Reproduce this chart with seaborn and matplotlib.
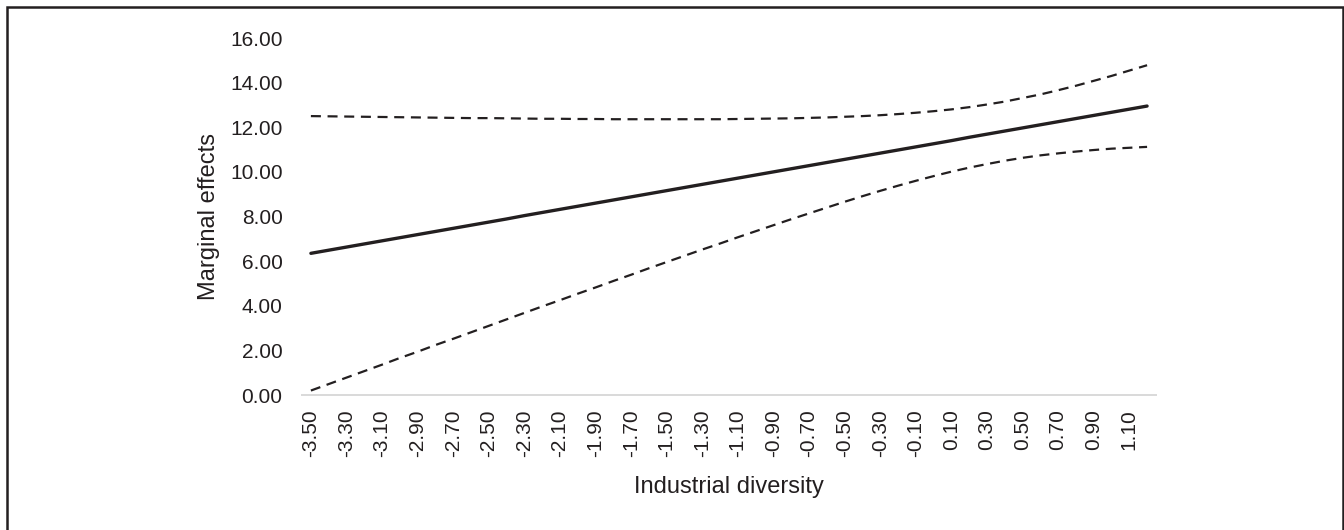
import matplotlib
matplotlib.use("Agg")
import matplotlib.pyplot as plt
import seaborn as sns
import pandas as pd
from matplotlib.patches import Rectangle

# Industrial diversity values (x) and the estimated marginal effects with confidence bounds
diversity = [-3.5, -3.4, -3.3, -3.2, -3.1, -3.0, -2.9, -2.8, -2.7, -2.6,
             -2.5, -2.4, -2.3, -2.2, -2.1, -2.0, -1.9, -1.8, -1.7, -1.6,
             -1.5, -1.4, -1.3, -1.2, -1.1, -1.0, -0.9, -0.8, -0.7, -0.6,
             -0.5, -0.4, -0.3, -0.2, -0.1, 0.0, 0.1, 0.2, 0.3, 0.4,
             0.5, 0.6, 0.7, 0.8, 0.9, 1.0, 1.1, 1.2]

marginal_effect = [6.35, 6.49, 6.63, 6.77, 6.91, 7.05, 7.19, 7.33, 7.47, 7.61,
                   7.75, 7.89, 8.04, 8.18, 8.32, 8.46, 8.60, 8.74, 8.88, 9.02,
                   9.16, 9.30, 9.44, 9.58, 9.72, 9.86, 10.00, 10.14, 10.28, 10.42,
                   10.56, 10.70, 10.84, 10.98, 11.12, 11.26, 11.40, 11.55, 11.69, 11.83,
                   11.97, 12.11, 12.25, 12.39, 12.53, 12.67, 12.81, 12.95]

upper_bound = [12.50, 12.49, 12.48, 12.47, 12.46, 12.45, 12.44, 12.43, 12.42, 12.41,
               12.41, 12.40, 12.39, 12.38, 12.38, 12.37, 12.37, 12.36, 12.36, 12.36,
               12.36, 12.36, 12.36, 12.36, 12.37, 12.38, 12.39, 12.40, 12.42, 12.44,
               12.47, 12.50, 12.54, 12.59, 12.65, 12.72, 12.80, 12.90, 13.02, 13.15,
               13.31, 13.47, 13.66, 13.86, 14.08, 14.30, 14.54, 14.78]

lower_bound = [0.20, 0.49, 0.78, 1.07, 1.36, 1.66, 1.94, 2.24, 2.52, 2.81,
               3.10, 3.39, 3.68, 3.97, 4.25, 4.54, 4.82, 5.11, 5.39, 5.68,
               5.96, 6.24, 6.52, 6.79, 7.07, 7.34, 7.61, 7.88, 8.14, 8.40,
               8.66, 8.91, 9.15, 9.38, 9.60, 9.81, 10.01, 10.19, 10.35, 10.50,
               10.63, 10.74, 10.83, 10.91, 10.98, 11.04, 11.08, 11.12]

x_tick_values = diversity[:-1:2]
x_tick_labels = [f"{v:.2f}" for v in x_tick_values]
y_tick_values = [0, 2, 4, 6, 8, 10, 12, 14, 16]
y_tick_labels = [f"{v:.2f}" for v in y_tick_values]

sns.set_theme(style="white")
plt.rcParams["font.family"] = ["Liberation Sans", "DejaVu Sans"]

ink = "#231f20"
df = pd.DataFrame({
    "diversity": diversity,
    "effect": marginal_effect,
    "upper": upper_bound,
    "lower": lower_bound,
})

fig = plt.figure(figsize=(13.44, 5.30), dpi=100)
ax = fig.add_axes([0.2247, 0.2547, 0.6354, 0.6736])

sns.lineplot(data=df, x="diversity", y="upper", ax=ax, color=ink,
             linewidth=1.6, dashes=False)
sns.lineplot(data=df, x="diversity", y="lower", ax=ax, color=ink,
             linewidth=1.6, dashes=False)
sns.lineplot(data=df, x="diversity", y="effect", ax=ax, color=ink,
             linewidth=2.4)
for ln in ax.lines[:2]:
    ln.set_dashes((4.5, 3.0))
    ln.set_dash_capstyle("butt")

ax.set_xlim(-3.55, 1.25)
ax.set_ylim(0, 16)
ax.set_xticks(x_tick_values)
ax.set_xticklabels(x_tick_labels, rotation=90)
ax.set_yticks(y_tick_values)
ax.set_yticklabels(y_tick_labels)
ax.tick_params(axis="both", length=0, labelsize=15, labelcolor=ink)
ax.tick_params(axis="x", pad=10.5)
ax.tick_params(axis="y", pad=14)

for side in ["top", "right", "left"]:
    ax.spines[side].set_visible(False)
ax.spines["bottom"].set_color("#d9d9d9")
ax.spines["bottom"].set_linewidth(1.4)
ax.grid(False)

ax.set_xlabel("Industrial diversity", fontsize=17, color=ink)
ax.set_ylabel("Marginal effects", fontsize=17, color=ink)
ax.xaxis.set_label_coords(0.5, -0.227)
ax.yaxis.set_label_coords(-0.096, 0.5)

# outer frame around the chart area
fig.patches.append(Rectangle((7 / 1344, -0.02), 1336 / 1344, 1.02 - 7 / 530,
                             transform=fig.transFigure, fill=False,
                             edgecolor=ink, linewidth=1.8, zorder=10))

fig.savefig("out.png", dpi=100, facecolor="white")
